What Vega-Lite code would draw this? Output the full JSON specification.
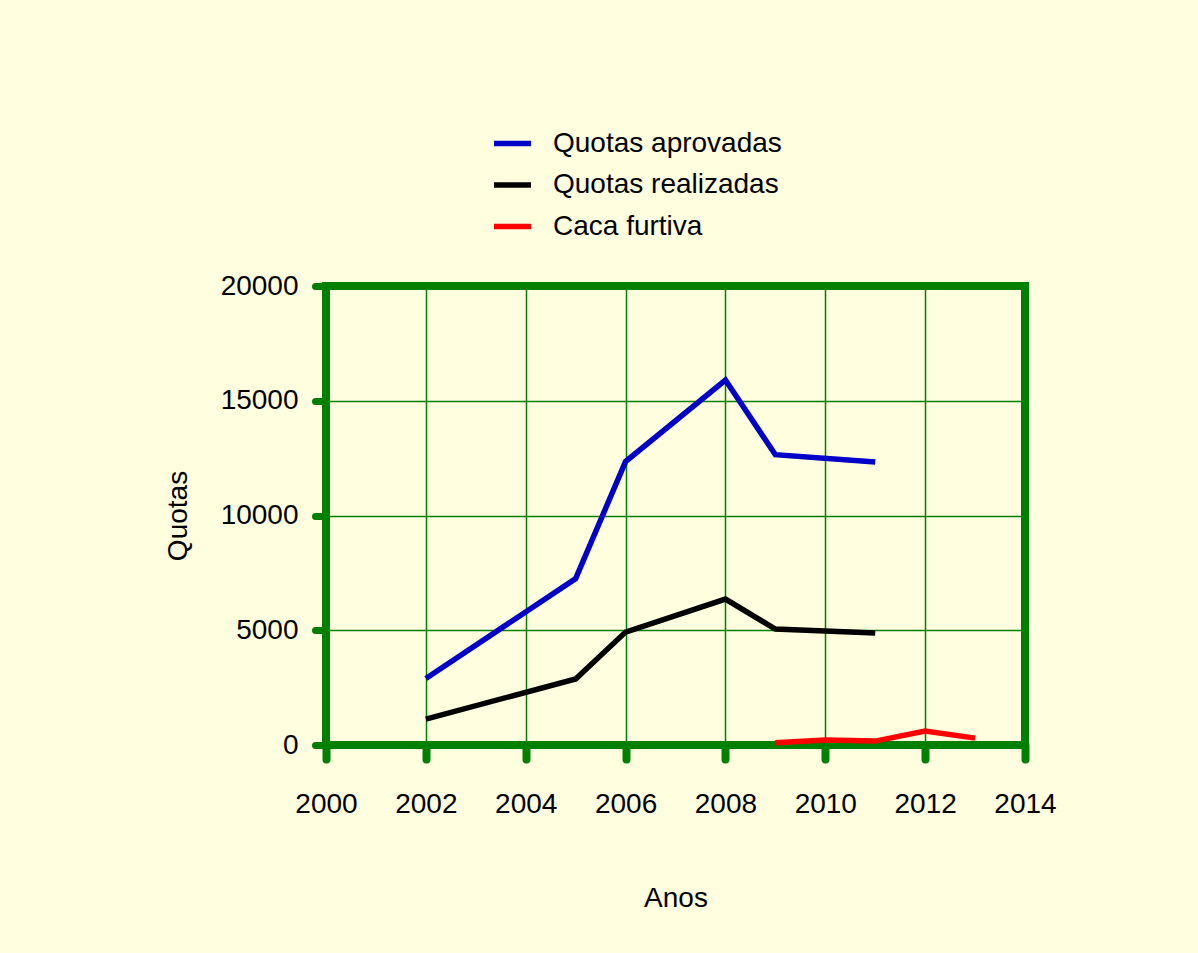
{
  "$schema": "https://vega.github.io/schema/vega-lite/v6.json",
  "autosize": {"type": "none"},
  "width": 699,
  "height": 459,
  "padding": {"left": 326, "top": 286, "right": 173, "bottom": 208},
  "background": "#FFFEDE",
  "config": {
    "view": {"stroke": "#008000", "strokeWidth": 8},
    "font": "Liberation Sans"
  },
  "data": {
    "values": [
      {"ano": 2002, "serie": "Quotas aprovadas", "valor": 2900},
      {"ano": 2005, "serie": "Quotas aprovadas", "valor": 7250},
      {"ano": 2006, "serie": "Quotas aprovadas", "valor": 12350},
      {"ano": 2008, "serie": "Quotas aprovadas", "valor": 15900},
      {"ano": 2009, "serie": "Quotas aprovadas", "valor": 12650},
      {"ano": 2011, "serie": "Quotas aprovadas", "valor": 12330},
      {"ano": 2002, "serie": "Quotas realizadas", "valor": 1130},
      {"ano": 2005, "serie": "Quotas realizadas", "valor": 2880},
      {"ano": 2006, "serie": "Quotas realizadas", "valor": 4920},
      {"ano": 2008, "serie": "Quotas realizadas", "valor": 6360},
      {"ano": 2009, "serie": "Quotas realizadas", "valor": 5050},
      {"ano": 2011, "serie": "Quotas realizadas", "valor": 4880},
      {"ano": 2009, "serie": "Caca furtiva", "valor": 100},
      {"ano": 2010, "serie": "Caca furtiva", "valor": 220},
      {"ano": 2011, "serie": "Caca furtiva", "valor": 170},
      {"ano": 2012, "serie": "Caca furtiva", "valor": 610},
      {"ano": 2013, "serie": "Caca furtiva", "valor": 300}
    ]
  },
  "mark": {"type": "line", "strokeWidth": 5.5, "strokeJoin": "miter", "clip": false},
  "encoding": {
    "x": {
      "field": "ano", "type": "quantitative",
      "scale": {"domain": [2000, 2014], "nice": false, "zero": false},
      "axis": {
        "title": "Anos", "values": [2000, 2002, 2004, 2006, 2008, 2010, 2012, 2014],
        "format": "d", "domain": false, "labelFlush": false, "labelOverlap": false, "labelBound": false,
        "grid": true, "gridColor": "#008000", "gridWidth": 1.5, "gridOpacity": 1,
        "ticks": true, "tickColor": "#008000", "tickWidth": 8, "tickSize": 14, "tickCap": "round",
        "labelFontSize": 28, "labelColor": "#000000", "labelPadding": 31, "labelFont": "Liberation Sans",
        "titleFontSize": 28, "titleFontWeight": "normal", "titleColor": "#000000", "titlePadding": 66, "titleFont": "Liberation Sans"
      }
    },
    "y": {
      "field": "valor", "type": "quantitative",
      "scale": {"domain": [0, 20000], "nice": false},
      "axis": {
        "title": "Quotas", "values": [0, 5000, 10000, 15000, 20000], "format": "d",
        "domain": false, "labelOverlap": false, "labelFlush": false,
        "grid": true, "gridColor": "#008000", "gridWidth": 1.5, "gridOpacity": 1,
        "ticks": true, "tickColor": "#008000", "tickWidth": 7, "tickSize": 11, "tickCap": "round",
        "labelFontSize": 28, "labelColor": "#000000", "labelPadding": 17, "labelFont": "Liberation Sans",
        "titleFontSize": 28, "titleFontWeight": "normal", "titleColor": "#000000", "titlePadding": 28, "titleFont": "Liberation Sans"
      }
    },
    "color": {
      "field": "serie", "type": "nominal",
      "scale": {"domain": ["Quotas aprovadas", "Quotas realizadas", "Caca furtiva"], "range": ["#0000C8", "#000000", "#FF0000"]},
      "legend": {
        "title": null, "orient": "none", "legendX": 165, "legendY": -164,
        "direction": "vertical",
        "symbolType": "stroke", "symbolSize": 1369, "symbolStrokeWidth": 5.5,
        "labelFontSize": 28, "labelColor": "#000000", "labelOffset": 19, "rowPadding": 5.5, "labelLimit": 0, "labelFont": "Liberation Sans"
      }
    }
  }
}
